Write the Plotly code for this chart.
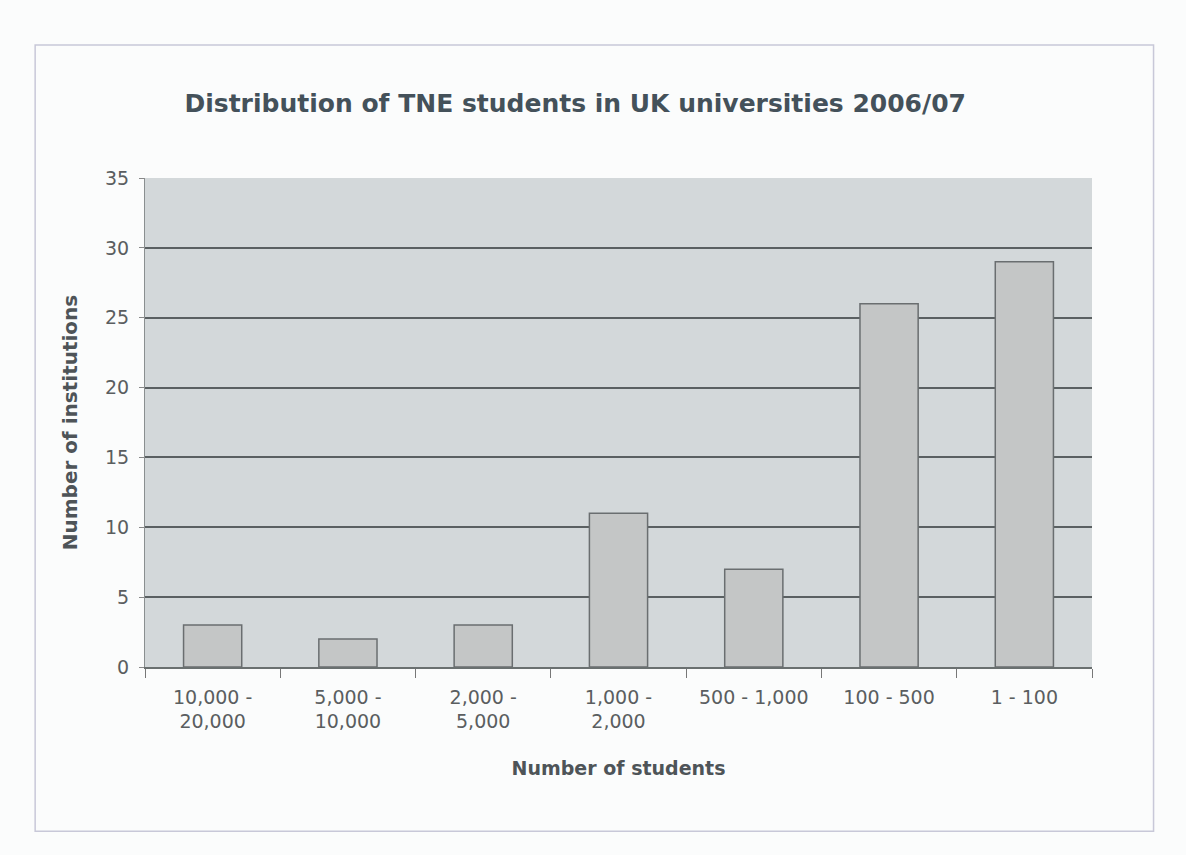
import plotly.graph_objects as go

categories = ["10,000 -<br>20,000", "5,000 -<br>10,000", "2,000 -<br>5,000",
              "1,000 -<br>2,000", "500 - 1,000", "100 - 500", "1 - 100"]
institutions = [3, 2, 3, 11, 7, 26, 29]

fig = go.Figure()
fig.add_trace(go.Bar(
    x=categories, y=institutions,
    marker=dict(color="#c4c6c6", line=dict(color="#6a6e70", width=1.5)),
))

fig.update_layout(
    width=1186, height=855,
    margin=dict(l=145, r=94, t=178, b=188),
    paper_bgcolor="#fbfcfc",
    plot_bgcolor="#d3d8da",
    bargap=0.57,
    showlegend=False,
    font=dict(family="DejaVu Sans, Liberation Sans, sans-serif", color="#5a5e60", size=19),
    title=dict(text="<b>Distribution of TNE students in UK universities 2006/07</b>",
               x=0.485, xanchor="center", y=0.879, yanchor="middle",
               font=dict(size=25, color="#44515a")),
    xaxis=dict(
        title=dict(text="<b>Number of students</b>", font=dict(size=19, color="#4e5458"), standoff=30),
        tickson="boundaries", ticks="outside", ticklen=9, tickcolor="#777",
        ticklabelstandoff=12,
        showline=True, linecolor="#6a7070", linewidth=1.5,
        tickfont=dict(size=19, color="#5a5e60"),
        showgrid=False,
    ),
    yaxis=dict(
        title=dict(text="<b>Number of institutions</b>", font=dict(size=20, color="#4e5458"), standoff=22),
        range=[0, 35], dtick=5, ticks="outside", ticklen=5, tickcolor="#888",
        ticklabelstandoff=6,
        showgrid=True, gridcolor="#5a6062", gridwidth=1.8,
        showline=True, linecolor="#8a8f90", linewidth=1,
        tickfont=dict(size=19, color="#5a5e60"),
        zeroline=False,
    ),
)

fig.add_shape(type="rect", xref="paper", yref="paper",
              x0=-0.116, x1=1.065, y0=-0.336, y1=1.272,
              line=dict(color="#c8c8d8", width=1.5), fillcolor="rgba(0,0,0,0)", layer="below")

fig.write_html("out.html")
